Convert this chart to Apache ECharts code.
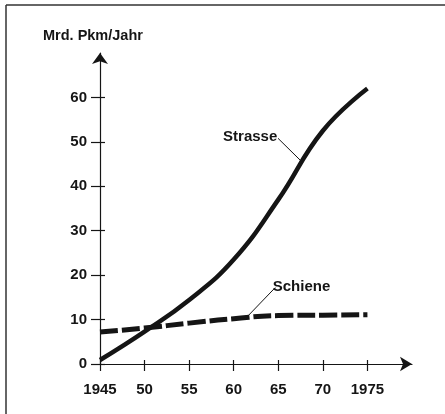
<!DOCTYPE html>
<html><head><meta charset="utf-8">
<script src="https://cdn.jsdelivr.net/npm/echarts@6/dist/echarts.min.js"></script>
<style>html,body{margin:0;padding:0;background:#fff}#c{width:445px;height:414px}</style>
</head><body><div id="c"></div>
<script>
const years = [1945, 1950, 1955, 1960, 1965, 1970, 1975];
const strasse = [0.9, 7.3, 14.4, 23.5, 37, 52.5, 62];
const schiene = [7.2, 8.1, 9.2, 10.2, 10.9, 11.0, 11.1];
const yTicks = [0, 10, 20, 30, 40, 50, 60];
const xTickLabels = ['1945', '50', '55', '60', '65', '70', '1975'];
const title = 'Mrd. Pkm/Jahr';
const strasseName = 'Strasse';
const schieneName = 'Schiene';

const FONT = '"Liberation Sans Narrow", "Liberation Sans", sans-serif';
const INK = '#151515';
const chart = echarts.init(document.getElementById('c'), null, {renderer: 'canvas'});

const baseX = {
  type: 'value', min: 1945, max: 1980, interval: 5,
  splitLine: {show: false}
};
const baseY = {
  type: 'value', min: 0, max: 70, interval: 10,
  splitLine: {show: false}
};

chart.setOption({
  animation: false,
  backgroundColor: '#fff',
  grid: {left: 100, right: 33, top: 53, bottom: 50},
  title: {
    text: title, left: 38, top: 23,
    textStyle: {fontFamily: FONT, fontWeight: 'bold', fontSize: 14.5, color: INK}
  },
  xAxis: [
    Object.assign({}, baseX, {
      axisLine: {show: true, lineStyle: {color: INK, width: 1.2}, symbol: ['none', 'arrow'], symbolSize: [11, 12]},
      axisTick: {show: true, inside: false, length: 7, lineStyle: {color: INK, width: 1.2}, customValues: years},
      axisLabel: {
        show: true, margin: 18, customValues: years,
        fontFamily: FONT, fontWeight: 'bold', fontSize: 15, color: INK,
        formatter: v => xTickLabels[years.indexOf(v)] || ''
      }
    }),
    Object.assign({}, baseX, {
      position: 'bottom',
      axisLine: {show: false},
      axisTick: {show: true, inside: true, length: 4, lineStyle: {color: INK, width: 1.2}, customValues: years},
      axisLabel: {show: false}
    })
  ],
  yAxis: [
    Object.assign({}, baseY, {
      axisLine: {show: true, lineStyle: {color: INK, width: 1.2}, symbol: ['none', 'arrow'], symbolSize: [12, 11]},
      axisTick: {show: true, inside: false, length: 9, lineStyle: {color: INK, width: 1.2}, customValues: yTicks},
      axisLabel: {
        show: true, margin: 13, customValues: yTicks,
        fontFamily: FONT, fontWeight: 'bold', fontSize: 15, color: INK
      }
    }),
    Object.assign({}, baseY, {
      position: 'left',
      axisLine: {show: false},
      axisTick: {show: true, inside: true, length: 5, lineStyle: {color: INK, width: 1.2}, customValues: yTicks},
      axisLabel: {show: false}
    })
  ],
  series: [
    {
      name: strasseName, type: 'line', xAxisIndex: 0, yAxisIndex: 0,
      data: years.map((y, i) => [y, strasse[i]]),
      smooth: 0.45, showSymbol: false,
      lineStyle: {color: INK, width: 4.5, cap: 'butt'},
      markLine: {
        silent: true, symbol: ['none', 'none'],
        lineStyle: {color: INK, width: 1, type: 'solid'},
        label: {show: false},
        data: [[{coord: [1964.97, 50.8]}, {coord: [1967.65, 45.5]}]]
      },
      markPoint: {
        silent: true, symbol: 'rect', symbolSize: 0,
        label: {show: true, position: 'inside', formatter: strasseName,
          fontFamily: FONT, fontWeight: 'bold', fontSize: 15, color: INK},
        data: [{coord: [1961.85, 51.2]}]
      }
    },
    {
      name: schieneName, type: 'line', xAxisIndex: 0, yAxisIndex: 0,
      data: years.map((y, i) => [y, schiene[i]]),
      smooth: 0.5, showSymbol: false,
      lineStyle: {color: INK, width: 5, type: [18, 4], cap: 'butt'},
      markLine: {
        silent: true, symbol: ['none', 'none'],
        lineStyle: {color: INK, width: 1, type: 'solid'},
        label: {show: false},
        data: [[{coord: [1964.66, 17.2]}, {coord: [1961.4, 10.4]}]]
      },
      markPoint: {
        silent: true, symbol: 'rect', symbolSize: 0,
        label: {show: true, position: 'inside', formatter: schieneName,
          fontFamily: FONT, fontWeight: 'bold', fontSize: 15, color: INK},
        data: [{coord: [1967.6, 17.4]}]
      }
    }
  ],
  graphic: [
    {type: 'line', shape: {x1: 6, y1: 5, x2: 6, y2: 414}, style: {stroke: '#333', lineWidth: 1.5}},
    {type: 'line', shape: {x1: 6, y1: 5, x2: 445, y2: 5}, style: {stroke: '#333', lineWidth: 1.5}}
  ]
});
</script>
</body></html>
